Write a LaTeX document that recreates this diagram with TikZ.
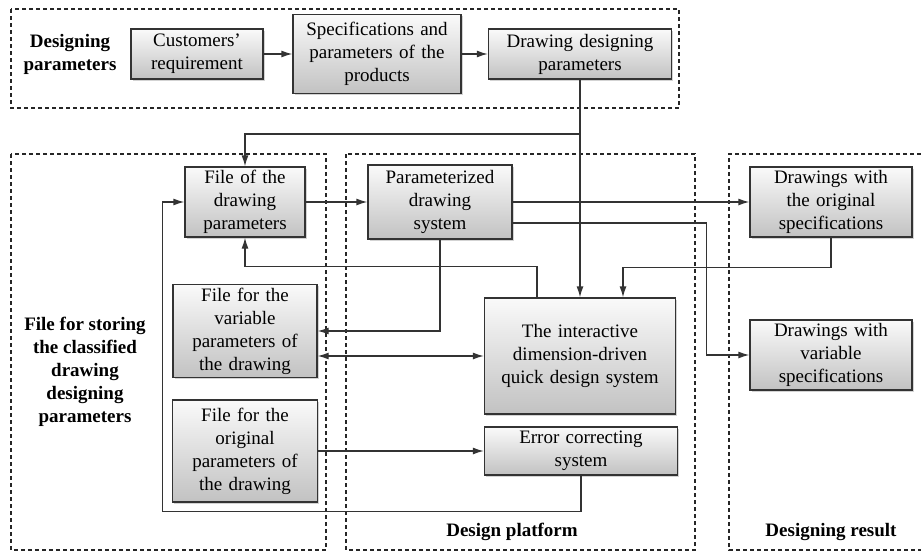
\documentclass[tikz,border=0pt]{standalone}
\usepackage{fontspec}
\setmainfont{Liberation Serif}
\usetikzlibrary{arrows.meta,shadows,calc}

\tikzset{
	box/.style={draw=black!80, line width=1.3pt, top color=gray!4, bottom color=gray!48,
		drop shadow={shadow xshift=1.5pt, shadow yshift=-1.5pt, opacity=0.35},
		inner sep=0pt, align=center, font=\fontsize{19}{23}\selectfont},
	frame/.style={draw=black!85, line width=1.2pt, dash pattern=on 4pt off 3pt},
	grouplabel/.style={align=center, font=\bfseries\fontsize{19}{23}\selectfont}
}

\begin{document}
\begin{tikzpicture}[x=1pt, y=-1pt, line width=1.3pt, draw=black!80, >={Latex[length=11pt,width=7pt]}]

		\useasboundingbox (0, 0) rectangle (921, 552);

		% frames of the groups
		\draw[frame] (11, 9) rectangle (679, 108);
		\draw[frame] (11, 154) rectangle (326, 550);
		\draw[frame] (346, 154) rectangle (695, 550);
		\draw[frame] (921, 154) -- (729, 154) -- (729, 550) -- (921, 550);

		\node[grouplabel] (lblparam) at (70, 54) {Designing\\parameters};
		\node[grouplabel] (lblfile) at (85, 372) {File for storing\\the classified\\drawing\\designing\\parameters};
		\node[grouplabel] (lblplat) at (512, 532) {Design platform};
		\node[grouplabel] (lblres) at (831, 532) {Designing result};

		\node[box, text width=132, minimum height=50] (cust) at (197, 54) {Customers’\\requirement};
		\node[box, text width=168, minimum height=79] (spec) at (377, 54) {Specifications and\\parameters of the\\products};
		\node[box, text width=183, minimum height=50] (drawpar) at (580, 54) {Drawing designing\\parameters};

		\node[box, text width=120, minimum height=70] (filedraw) at (245, 202) {File of the\\drawing\\parameters};
		\node[box, text width=144, minimum height=93] (varfile) at (245, 331) {File for the\\variable\\parameters of\\the drawing};
		\node[box, text width=145, minimum height=102] (origfile) at (245, 451) {File for the\\original\\parameters of\\the drawing};

		\node[box, text width=144, minimum height=74] (param) at (440, 202) {Parameterized\\drawing\\system};
		\node[box, text width=191, minimum height=116] (interact) at (580, 356) {The interactive\\dimension-driven\\quick design system};
		\node[box, text width=193, minimum height=48] (error) at (581, 451) {Error correcting\\system};

		\node[box, text width=162, minimum height=70] (origdraw) at (831, 202) {Drawings with\\the original\\specifications};
		\node[box, text width=162, minimum height=70] (vardraw) at (831, 355) {Drawings with\\variable\\specifications};

		\coordinate (split) at (580, 134);

		\draw[->] (cust) -- (spec);
		\draw[->] (spec) -- (drawpar);
		\draw[->] (drawpar.south) -- (interact.north);
		\draw[->] (split) -| (filedraw.north);

		\draw[->] (filedraw) -- (param);
		\draw[->] (param.east) -- (origdraw.west);
		\draw[->] ($(param.east)+(0, 21)$) -- ++(194, 0) |- (vardraw.west);
		\draw[->] (origdraw.south) -- ++(0, 30) -| ($(interact.north)+(43, 0)$);
		\draw[->] ($(interact.north)+(-43, 0)$) -- ++(0, -31) -| (filedraw.south);
		\draw[->] (param.south) |- (varfile.east);
		\draw[<->] (varfile.east |- interact.west) -- (interact.west);
		\draw[->] (origfile) -- (error);
		\draw[->] (error.south) -- ++(0, 36) -| ($(filedraw.west)+(-22, 0)$) -- (filedraw.west);

	\end{tikzpicture}
\end{document}
